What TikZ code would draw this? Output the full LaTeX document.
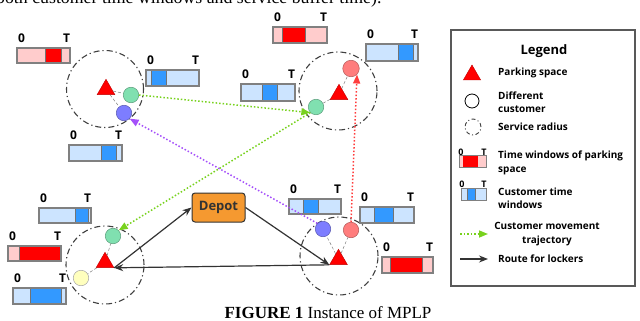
\documentclass[tikz,border=0pt]{standalone}
\usepackage{fontspec}
\setmainfont{Liberation Serif}
\newfontfamily\diafont{Open Sans}
\usetikzlibrary{shapes.geometric,arrows.meta}
\definecolor{pred}{RGB}{255,0,0}
\definecolor{redlight}{RGB}{255,204,204}
\definecolor{reddark}{RGB}{255,0,0}
\definecolor{bluelight}{RGB}{204,228,255}
\definecolor{bluedark}{RGB}{51,153,255}
\definecolor{boxgray}{RGB}{128,128,128}
\definecolor{cgreen}{RGB}{128,224,176}
\definecolor{cpurple}{RGB}{125,125,255}
\definecolor{cpink}{RGB}{255,125,125}
\definecolor{cyellow}{RGB}{255,255,190}
\definecolor{tgreen}{RGB}{120,210,30}
\definecolor{tpurple}{RGB}{165,80,250}
\definecolor{tred}{RGB}{255,60,60}
\definecolor{depotfill}{RGB}{245,153,48}
\newcommand{\twbox}[8]{%
  \fill[#8light] (#2,#4) rectangle (#3,#5);
  \filldraw[fill=#8dark, draw=black!55, line width=0.5pt] (#6,#4) rectangle (#7,#5);
  \draw[boxgray, line width=1.1pt] (#2,#4) rectangle (#3,#5);
  \node[tlbl] (#1-0) at ({#2+4.5},{#4-9.5}) {0};
  \node[tlbl] (#1-T) at ({#3-3.5},{#4-9.5}) {T};
}
\begin{document}
\begin{tikzpicture}[x=1pt,y=-1pt,
  park/.style={regular polygon, regular polygon sides=3, fill=pred, draw=pred!75!black, line width=0.4pt, minimum size=20.5pt, inner sep=0pt},
  cust/.style={circle, minimum size=15.5pt, inner sep=0pt, line width=0.5pt},
  radius/.style={circle, draw=black!75, line width=1.1pt, dash pattern=on 6pt off 3pt on 1.2pt off 3pt, inner sep=0pt},
  link/.style={draw=black!50, line width=0.5pt, dash pattern=on 3pt off 2pt},
  route/.style={draw=black!80, line width=1.2pt, -{Stealth[length=9pt,width=7pt]}},
  traj/.style={line width=1.5pt, dash pattern=on 1.5pt off 2pt, -{Triangle[length=9pt,width=7pt]}},
  tlbl/.style={font={\diafont\bfseries\fontsize{12}{13}\selectfont}, inner sep=0pt},
  slbl/.style={font={\diafont\bfseries\fontsize{9}{10}\selectfont}, inner sep=0pt},
  legtxt/.style={font={\diafont\bfseries\fontsize{10}{13.5}\selectfont}, anchor=west, align=left, inner sep=0pt}
]
\useasboundingbox (0,0) rectangle (640,321);
\clip (0,0) rectangle (640,321);

% cut-off text line at top and caption
\node[anchor=base west, inner sep=0pt, font=\fontsize{17.8}{19}\selectfont] (toptext) at (-4,4) {both customer time windows and service buffer time).};
\node[anchor=base, inner sep=0pt, font=\fontsize{17}{19}\selectfont] (caption) at (328,318) {\textbf{FIGURE 1} Instance of MPLP};

% service radius circles
\node[radius, minimum size=77pt] (c1) at (105,89) {};
\node[radius, minimum size=78pt] (c2) at (338,91) {};
\node[radius, minimum size=78pt] (c3) at (105,265) {};
\node[radius, minimum size=78pt] (c4) at (339,256) {};

% parking spaces
\node[park] (t1) at (106,89.5) {};
\node[park] (t2) at (339,94.5) {};
\node[park] (t3) at (105,262.5) {};
\node[park] (t4) at (338.5,259.5) {};

% customers
\node[cust, fill=cgreen, draw=cgreen!70!black] (g1) at (131,95) {};
\node[cust, fill=cpurple, draw=cpurple!70!black] (p1) at (124,113) {};
\node[cust, fill=cpink, draw=cpink!70!black, minimum size=16.5pt] (r2) at (351,68.5) {};
\node[cust, fill=cgreen, draw=cgreen!70!black] (g2) at (316,107) {};
\node[cust, fill=cgreen, draw=cgreen!70!black] (g3) at (113,236) {};
\node[cust, fill=cyellow, draw=black!35] (y3) at (81,278) {};
\node[cust, fill=cpurple, draw=cpurple!70!black] (p4) at (323,229) {};
\node[cust, fill=cpink, draw=cpink!70!black] (r4) at (351,230) {};

% links parking - customer
\draw[link] (t1) -- (g1);
\draw[link] (t1) -- (p1);
\draw[link] (t2) -- (g2);
\draw[link] (t2) -- (r2);
\draw[link] (t3) -- (g3);
\draw[link] (t3) -- (y3);
\draw[link] (t4) -- (p4);
\draw[link] (t4) -- (r4);

% time windows
\twbox{w1}{17}{70}{48}{63}{45}{61}{red}
\twbox{w2}{146}{199}{70}{86}{151}{166}{blue}
\twbox{w3}{69}{122}{145}{161}{101}{116}{blue}
\twbox{w4}{273}{327}{27}{43}{282}{305}{red}
\twbox{w5}{366}{418}{44}{61}{398}{413}{blue}
\twbox{w6}{241}{295}{84}{101}{262}{277}{blue}
\twbox{w7}{39}{91}{208}{223}{75}{88}{blue}
\twbox{w8}{8}{61}{246}{261}{19}{61}{red}
\twbox{w9}{13}{66}{288}{304}{30}{61}{blue}
\twbox{w10}{289}{341}{199}{214}{303}{318}{blue}
\twbox{w11}{360}{414}{207}{223}{374}{393}{blue}
\twbox{w12}{382}{433}{257}{273}{390}{422}{red}

% depot and routes
\node[draw=black!80, fill=depotfill, rounded corners=3pt, line width=1pt, minimum width=53pt, minimum height=29pt, inner sep=0pt, font={\diafont\bfseries\fontsize{13}{14}\selectfont}, text=black!80] (depot) at (218.5,207.5) {Depot};
\draw[route] (t3.corner 3) -- (depot.west);
\draw[route] (depot.east) -- (t4.corner 2);
\draw[route] (t4.corner 2) -- (t3.corner 3);

% customer trajectories
\draw[traj, tgreen] (g1.east) -- (g2.south west);
\draw[traj, tgreen] (g2.south west) -- (g3.north east);
\draw[traj, tpurple] (p4.north west) -- (p1.south east);
\draw[traj, tred] (r4.north) -- (r2.south east);

% legend
\node[draw=black!65, line width=1.1pt, minimum width=184pt, minimum height=256pt, inner sep=0pt] (legend) at (543,158) {};
\node[font={\diafont\bfseries\fontsize{13}{14}\selectfont}, inner sep=0pt] (legtitle) at (544,51) {Legend};
\node[park, minimum size=20pt] (lt) at (472,75) {};
\node[legtxt] (ltl) at (498,73) {Parking space};
\node[circle, draw=black, line width=0.8pt, minimum size=14pt, inner sep=0pt] (lc) at (472,101) {};
\node[legtxt] (lcl) at (498,102) {Different\\customer};
\node[radius, minimum size=16pt, line width=0.9pt, dash pattern=on 4pt off 2.5pt on 1pt off 2.5pt] (lr) at (473,127) {};
\node[legtxt] (lrl) at (498,127) {Service radius};
% legend time windows
\fill[redlight] (459,155) rectangle (486,167);
\fill[reddark] (463,155) rectangle (478,167);
\draw[boxgray, line width=1pt] (459,155) rectangle (486,167);
\node[slbl] (lw1-0) at (461,152) {0};
\node[slbl] (lw1-T) at (484,152) {T};
\node[legtxt] (lwl1) at (498,163) {Time windows of parking\\space};
\fill[bluelight] (461,188) rectangle (486,200);
\filldraw[fill=bluedark, draw=black!55, line width=0.4pt] (467,188) rectangle (475,200);
\draw[boxgray, line width=1pt] (461,188) rectangle (486,200);
\node[slbl] (lw2-0) at (462,184) {0};
\node[slbl] (lw2-T) at (484,184) {T};
\node[legtxt] (lwl2) at (498,198) {Customer time\\windows};
\coordinate (lga) at (460,234);
\coordinate (lgb) at (488,234);
\draw[traj, tgreen] (lga) -- (lgb);
\node[font={\diafont\bfseries\fontsize{10}{13.5}\selectfont}, align=center, inner sep=0pt] (lgl) at (547,234) {Customer movement\\trajectory};
\coordinate (lba) at (460,259);
\coordinate (lbb) at (488,259);
\draw[route] (lba) -- (lbb);
\node[legtxt] (lbl) at (498,259) {Route for lockers};
\end{tikzpicture}
\end{document}
